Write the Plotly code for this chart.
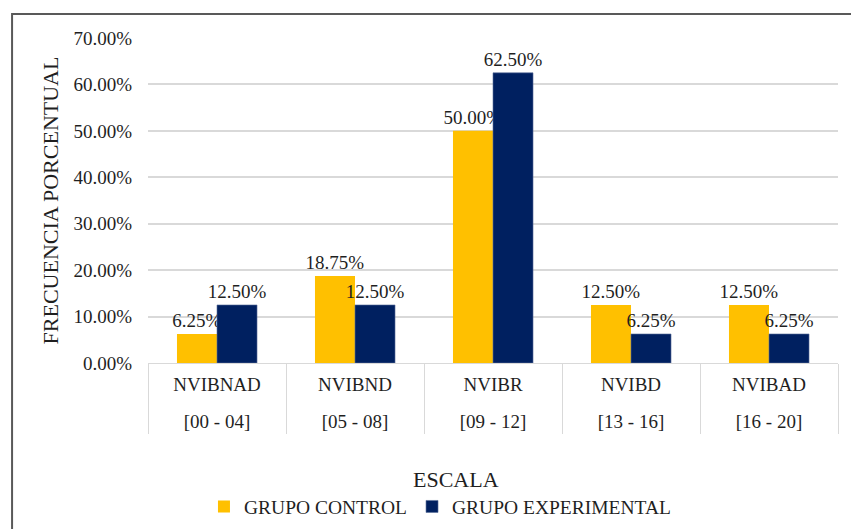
import plotly.graph_objects as go

NIVELES = ["NVIBNAD", "NVIBND", "NVIBR", "NVIBD", "NVIBAD"]
RANGOS = ["[00 - 04]", "[05 - 08]", "[09 - 12]", "[13 - 16]", "[16 - 20]"]
CONTROL = [0.0625, 0.1875, 0.50, 0.125, 0.125]
EXPERIMENTAL = [0.125, 0.125, 0.625, 0.0625, 0.0625]

FONT = "Liberation Serif"
INK = "#1f1f1f"
GRID = "#d9d9d9"

fig = go.Figure()
fig.add_trace(go.Bar(
    x=NIVELES, y=CONTROL, name="GRUPO CONTROL", marker_color="#FFC000",
    marker_line_width=0,
    texttemplate="%{y:.2%}", textposition="outside", constraintext="none",
    cliponaxis=False, textfont=dict(family=FONT, size=19, color=INK),
))
fig.add_trace(go.Bar(
    x=NIVELES, y=EXPERIMENTAL, name="GRUPO EXPERIMENTAL", marker_color="#002060",
    marker_line=dict(color="#5b6f9a", width=0.6),
    texttemplate="%{y:.2%}", textposition="outside", constraintext="none",
    cliponaxis=False, textfont=dict(family=FONT, size=19, color=INK),
))
# second row of category labels (score ranges)
fig.add_trace(go.Scatter(
    x=RANGOS, y=[None] * len(RANGOS), xaxis="x2", mode="markers",
    showlegend=False, hoverinfo="skip",
))

fig.update_layout(
    width=851, height=529,
    paper_bgcolor="white", plot_bgcolor="white",
    margin=dict(l=148, r=13, t=38, b=166),
    font=dict(family=FONT, size=19, color=INK),
    barmode="group", bargap=0.42, bargroupgap=0,
    legend=dict(orientation="h", xref="container", yref="container",
                x=0.517, y=0.042, xanchor="center", yanchor="middle",
                font=dict(family=FONT, size=19.5, color=INK), itemwidth=30),
    xaxis=dict(
        type="category", automargin=False, range=[-0.5, 4.5],
        showline=True, linecolor=GRID, linewidth=1,
        ticks="outside", tickson="boundaries", ticklen=70, tickcolor=GRID, tickwidth=1,
        ticklabelstandoff=4,
        tickfont=dict(family=FONT, size=19, color=INK),
    ),
    xaxis2=dict(
        type="category", overlaying="x", anchor="y", side="bottom",
        automargin=False, range=[-0.5, 4.5], showgrid=False, showline=False,
        ticks="", ticklabelstandoff=45,
        tickfont=dict(family=FONT, size=19, color=INK),
    ),
    yaxis=dict(
        range=[0, 0.70], dtick=0.10, tickformat=".2%", automargin=False,
        showgrid=True, gridcolor=GRID, gridwidth=1.5, zeroline=False,
        ticklabelstandoff=15,
        tickfont=dict(family=FONT, size=19, color=INK),
        title=dict(text="FRECUENCIA PORCENTUAL", standoff=8,
                   font=dict(family=FONT, size=22, color=INK)),
    ),
    annotations=[dict(
        text="ESCALA", xref="paper", yref="paper", x=0.446, y=-0.36,
        xanchor="center", yanchor="middle", showarrow=False,
        font=dict(family=FONT, size=22, color=INK),
    )],
    shapes=[dict(
        type="rect", xref="paper", yref="paper",
        x0=-0.197, x1=1.2, y0=-0.7, y1=1.074,
        line=dict(color="#595959", width=2), fillcolor="rgba(0,0,0,0)",
    )],
)

# the page's default body margin would push the figure 8px in
fig.write_html("out.html", config={"displayModeBar": False},
               post_script="document.body.style.margin = '0px';")
